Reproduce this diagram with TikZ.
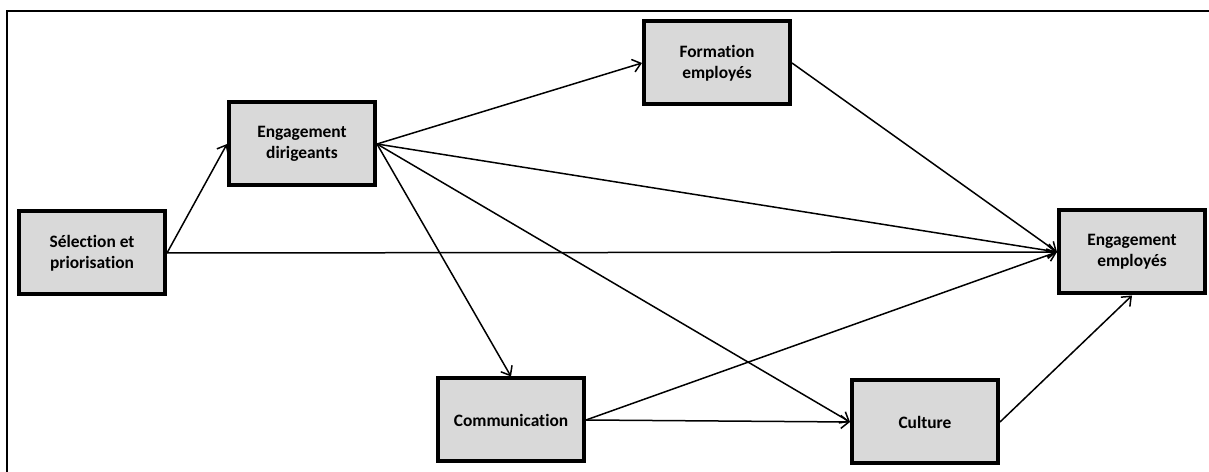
\documentclass[tikz,border=0pt]{standalone}
\usepackage{fontspec}
\setmainfont[Ligatures={NoCommon}]{Carlito}
\usepackage{tikz}
\usetikzlibrary{arrows.meta,positioning}

\begin{document}
\begin{tikzpicture}[every node/.style={font=\fontsize{9.9}{12.2}\selectfont\bfseries},
    factor/.style={draw,line width=0.08cm,fill=black!15,minimum width=2.92cm,
      minimum height=1.66cm,align=center,inner sep=2pt},
    link/.style={line width=0.03cm,-{Straight Barb[length=1.6mm,width=2.6mm]}}]
  \useasboundingbox (0,0) rectangle (24.18,9.44);
  % frame, top and left only
  \draw[line width=0.04cm] (0.14,0) -- (0.14,9.22) -- (24.18,9.22);
  % factors
  \node[factor] (sel) at (1.84,4.38) {Sélection et\\priorisation};
  \node[factor] (dir) at (6.04,6.56) {Engagement\\dirigeants};
  \node[factor] (form) at (14.34,8.18) {Formation\\employés};
  \node[factor] (empl) at (22.64,4.40) {Engagement\\employés};
  \node[factor] (comm) at (10.22,1.04) {Communication};
  \node[factor] (cult) at (18.50,1.00) {Culture};
  % links from selection
  \draw[link] (sel.east) -- (dir.west);
  \draw[link] (sel.east) -- (empl.west);
  % links from leaders
  \draw[link] (dir.east) -- (form.west);
  \draw[link] (dir.east) -- (empl.west);
  \draw[link] (dir.east) -- (comm.north);
  \draw[link] (dir.east) -- (cult.west);
  % links to employees
  \draw[link] (form.east) -- (empl.west);
  \draw[link] (comm.east) -- (empl.west);
  \draw[link] (comm.east) -- (cult.west);
  \draw[link] (cult.east) -- (empl.south);
\end{tikzpicture}
\end{document}
